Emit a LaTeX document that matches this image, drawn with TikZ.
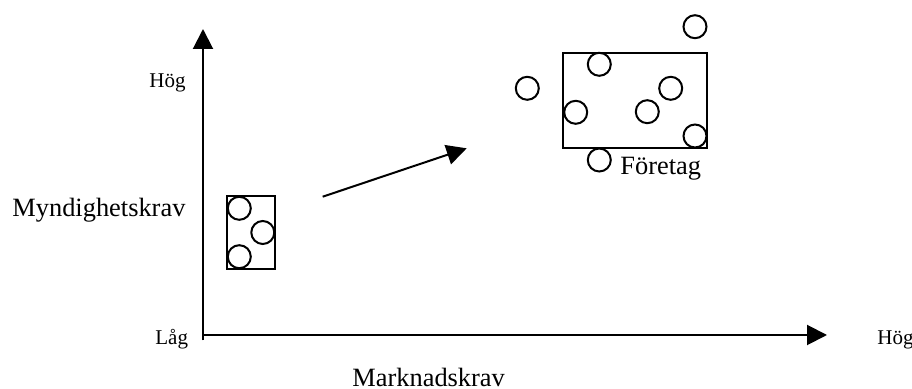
\documentclass[tikz,border=0pt]{standalone}
\usepackage{fontspec}
\setmainfont{Liberation Serif}
\usetikzlibrary{arrows.meta}
\begin{document}
\begin{tikzpicture}[x=0.5pt,y=-0.5pt,
  axisline/.style={line width=1pt,-{Triangle[length=10pt,width=10pt]}},
  dot/.style={draw,circle,line width=1pt,inner sep=0pt,minimum size=11.5pt},
  grp/.style={draw,rectangle,line width=1pt,inner sep=0pt},
  bigtxt/.style={font=\fontsize{13.2pt}{15pt}\selectfont,inner sep=0pt,anchor=base west},
  smalltxt/.style={font=\fontsize{10.5pt}{12pt}\selectfont,inner sep=0pt,anchor=base west}]
\useasboundingbox (0,0) rectangle (912,389);
% axes
\coordinate (ybot) at (203,340.5);
\coordinate (ytop) at (203,29);
\coordinate (xl) at (203,335);
\coordinate (xr) at (827,335);
\draw[axisline] (ybot) -- (ytop);
\draw[axisline] (xl) -- (xr);
% labels
\node[smalltxt] (hogy) at (149,88) {Hög};
\node[smalltxt] (lag) at (155,345) {Låg};
\node[smalltxt] (hogx) at (877,345) {Hög};
\node[bigtxt] (mynd) at (12,217) {Myndighetskrav};
\node[bigtxt] (mark) at (352,386.5) {Marknadskrav};
\node[bigtxt] (foretag) at (620,175) {Företag};
% small group
\node[grp,minimum width=24pt,minimum height=36.5pt] (smallbox) at (251,232.5) {};
\node[dot] (s1) at (239.3,208.3) {};
\node[dot] (s2) at (262.8,232.5) {};
\node[dot] (s3) at (239.3,256.7) {};
% arrow
\coordinate (atail) at (322.7,196.7);
\coordinate (ahead) at (466.7,148.3);
\draw[axisline] (atail) -- (ahead);
% big group
\node[grp,minimum width=72.3pt,minimum height=47.5pt] (bigbox) at (635,100.2) {};
\node[dot] (b1) at (695,26.7) {};
\node[dot] (b2) at (527.3,88.3) {};
\node[dot] (b3) at (599.3,64.3) {};
\node[dot] (b4) at (575.7,112.3) {};
\node[dot] (b5) at (647.3,111.7) {};
\node[dot] (b6) at (670.7,88.3) {};
\node[dot] (b7) at (695,136) {};
\node[dot] (b8) at (599.3,160) {};
\end{tikzpicture}
\end{document}
